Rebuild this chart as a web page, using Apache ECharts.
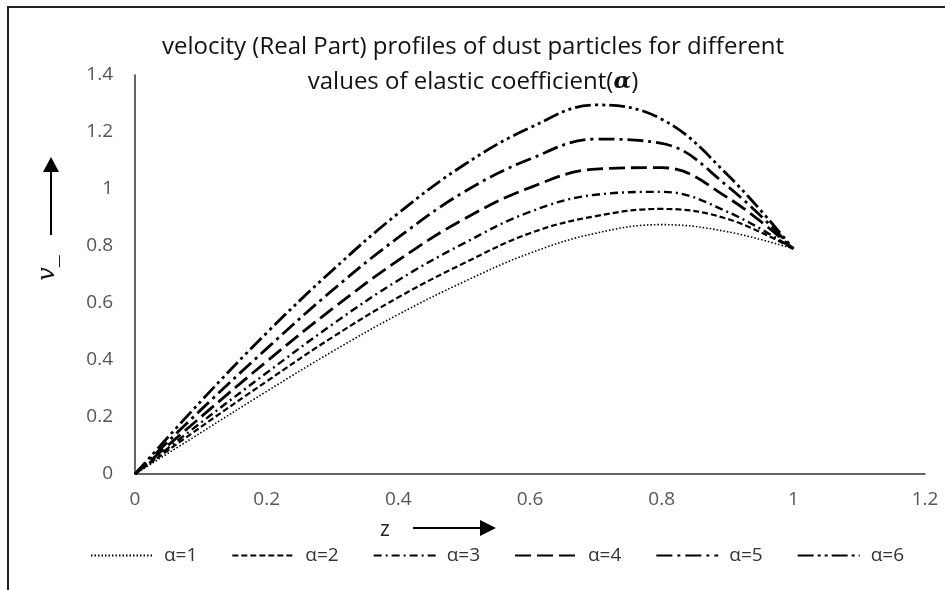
<!DOCTYPE html>
<html>
<head>
<meta charset="utf-8">
<script src="https://cdn.jsdelivr.net/npm/echarts@6/dist/echarts.min.js"></script>
<style>
html, body { margin: 0; padding: 0; background: #fff; }
#chart { width: 945px; height: 590px; }
</style>
</head>
<body>
<div id="chart"></div>
<script>
// z positions and the six velocity profiles
var zVals = [0, 0.1, 0.2, 0.3, 0.4, 0.5, 0.6, 0.7, 0.8, 0.9, 1.0];
var alpha1 = [0, 0.145, 0.29, 0.43, 0.56, 0.675, 0.775, 0.845, 0.875, 0.85, 0.79];
var alpha2 = [0, 0.165, 0.325, 0.48, 0.62, 0.74, 0.845, 0.905, 0.93, 0.895, 0.79];
var alpha3 = [0, 0.18, 0.355, 0.525, 0.68, 0.81, 0.92, 0.98, 0.99, 0.92, 0.79];
var alpha4 = [0, 0.2, 0.395, 0.58, 0.75, 0.895, 1.005, 1.07, 1.075, 0.97, 0.79];
var alpha5 = [0, 0.225, 0.44, 0.645, 0.83, 0.99, 1.105, 1.175, 1.16, 1.01, 0.79];
var alpha6 = [0, 0.255, 0.495, 0.715, 0.915, 1.085, 1.215, 1.295, 1.245, 1.05, 0.79];
var seriesNames = ['α=1', 'α=2', 'α=3', 'α=4', 'α=5', 'α=6'];
var xTicks = [0, 0.2, 0.4, 0.6, 0.8, 1, 1.2];
var yTicks = [0, 0.2, 0.4, 0.6, 0.8, 1, 1.2, 1.4];

var allSeries = [alpha1, alpha2, alpha3, alpha4, alpha5, alpha6];
var dashes = [
	[1.5, 2],
	[6, 3],
	[8, 4, 2, 4],
	[16, 6],
	[16, 5, 3, 5],
	[16, 4, 3, 4, 3, 4]
];
var widths = [1.6, 2.2, 2.4, 2.8, 2.8, 2.8];

var chart = echarts.init(document.getElementById('chart'));

var series = [];
for (var i = 0; i < allSeries.length; i++) {
	var pts = [];
	for (var j = 0; j < zVals.length; j++) {
		pts.push([zVals[j], allSeries[i][j]]);
	}
	series.push({
		name : seriesNames[i],
		type : 'line',
		smooth : 0.4,
		symbol : 'none',
		lineStyle : {
			color : '#000',
			width : widths[i],
			type : dashes[i]
		},
		itemStyle : { color : '#000' },
		data : pts
	});
}

var labelFont = "'Open Sans', sans-serif";

var option = {
	backgroundColor : '#fff',
	animation : false,
	title : {
		text : 'velocity (Real Part) profiles of dust particles for different\nvalues of elastic coefficient({a|α})',
		left : 468,
		top : 25,
		textAlign : 'center',
		textStyle : {
			fontFamily : labelFont,
			fontSize : 24,
			fontWeight : 'normal',
			color : '#111',
			lineHeight : 35,
			rich : {
				a : {
					fontFamily : "'DejaVu Serif', serif",
					fontStyle : 'italic',
					fontWeight : 'bold',
					fontSize : 23,
					color : '#111'
				}
			}
		}
	},
	legend : {
		bottom : 20,
		left : 85,
		itemWidth : 62,
		itemHeight : 12,
		itemGap : 34,
		itemStyle : { opacity : 0 },
		textStyle : {
			fontFamily : labelFont,
			fontSize : 19,
			color : '#333',
			padding : [0, 0, 0, 6]
		},
		data : seriesNames
	},
	grid : {
		left : 135,
		right : 20,
		top : 75,
		bottom : 116
	},
	xAxis : {
		type : 'value',
		min : xTicks[0],
		max : xTicks[xTicks.length - 1],
		interval : 0.2,
		axisLine : { lineStyle : { color : '#333', width : 1.5 } },
		axisTick : { show : false },
		splitLine : { show : false },
		axisLabel : {
			margin : 16,
			fontFamily : labelFont,
			fontSize : 19,
			color : '#555'
		}
	},
	yAxis : {
		type : 'value',
		min : yTicks[0],
		max : yTicks[yTicks.length - 1],
		interval : 0.2,
		axisLine : { show : true, lineStyle : { color : '#333', width : 1.5 } },
		axisTick : { show : false },
		splitLine : { show : false },
		axisLabel : {
			margin : 22,
			fontFamily : labelFont,
			fontSize : 19,
			color : '#555'
		}
	},
	graphic : [
		// outer frame (left and top edges only are visible)
		{
			type : 'rect',
			shape : { x : 8, y : 7, width : 960, height : 620 },
			style : { fill : null, stroke : '#222', lineWidth : 2 }
		},
		// y axis name and arrow
		{
			type : 'text',
			x : 48,
			y : 268,
			rotation : Math.PI / 2,
			style : {
				text : 'v_',
				font : "italic 24px 'DejaVu Serif', serif",
				fill : '#111',
				textAlign : 'center',
				textVerticalAlign : 'middle'
			}
		},
		{
			type : 'line',
			shape : { x1 : 51, y1 : 235, x2 : 51, y2 : 170 },
			style : { stroke : '#000', lineWidth : 2 }
		},
		{
			type : 'polygon',
			shape : { points : [[43, 172], [59, 172], [51, 157]] },
			style : { fill : '#000' }
		},
		// x axis name and arrow
		{
			type : 'text',
			x : 385,
			y : 530,
			style : {
				text : 'z',
				font : "21px 'Open Sans', sans-serif",
				fill : '#222',
				textAlign : 'center',
				textVerticalAlign : 'middle'
			}
		},
		{
			type : 'line',
			shape : { x1 : 413, y1 : 528, x2 : 482, y2 : 528 },
			style : { stroke : '#000', lineWidth : 2 }
		},
		{
			type : 'polygon',
			shape : { points : [[480, 520], [480, 536], [496, 528]] },
			style : { fill : '#000' }
		}
	],
	series : series
};
chart.setOption(option);
</script>
</body>
</html>
